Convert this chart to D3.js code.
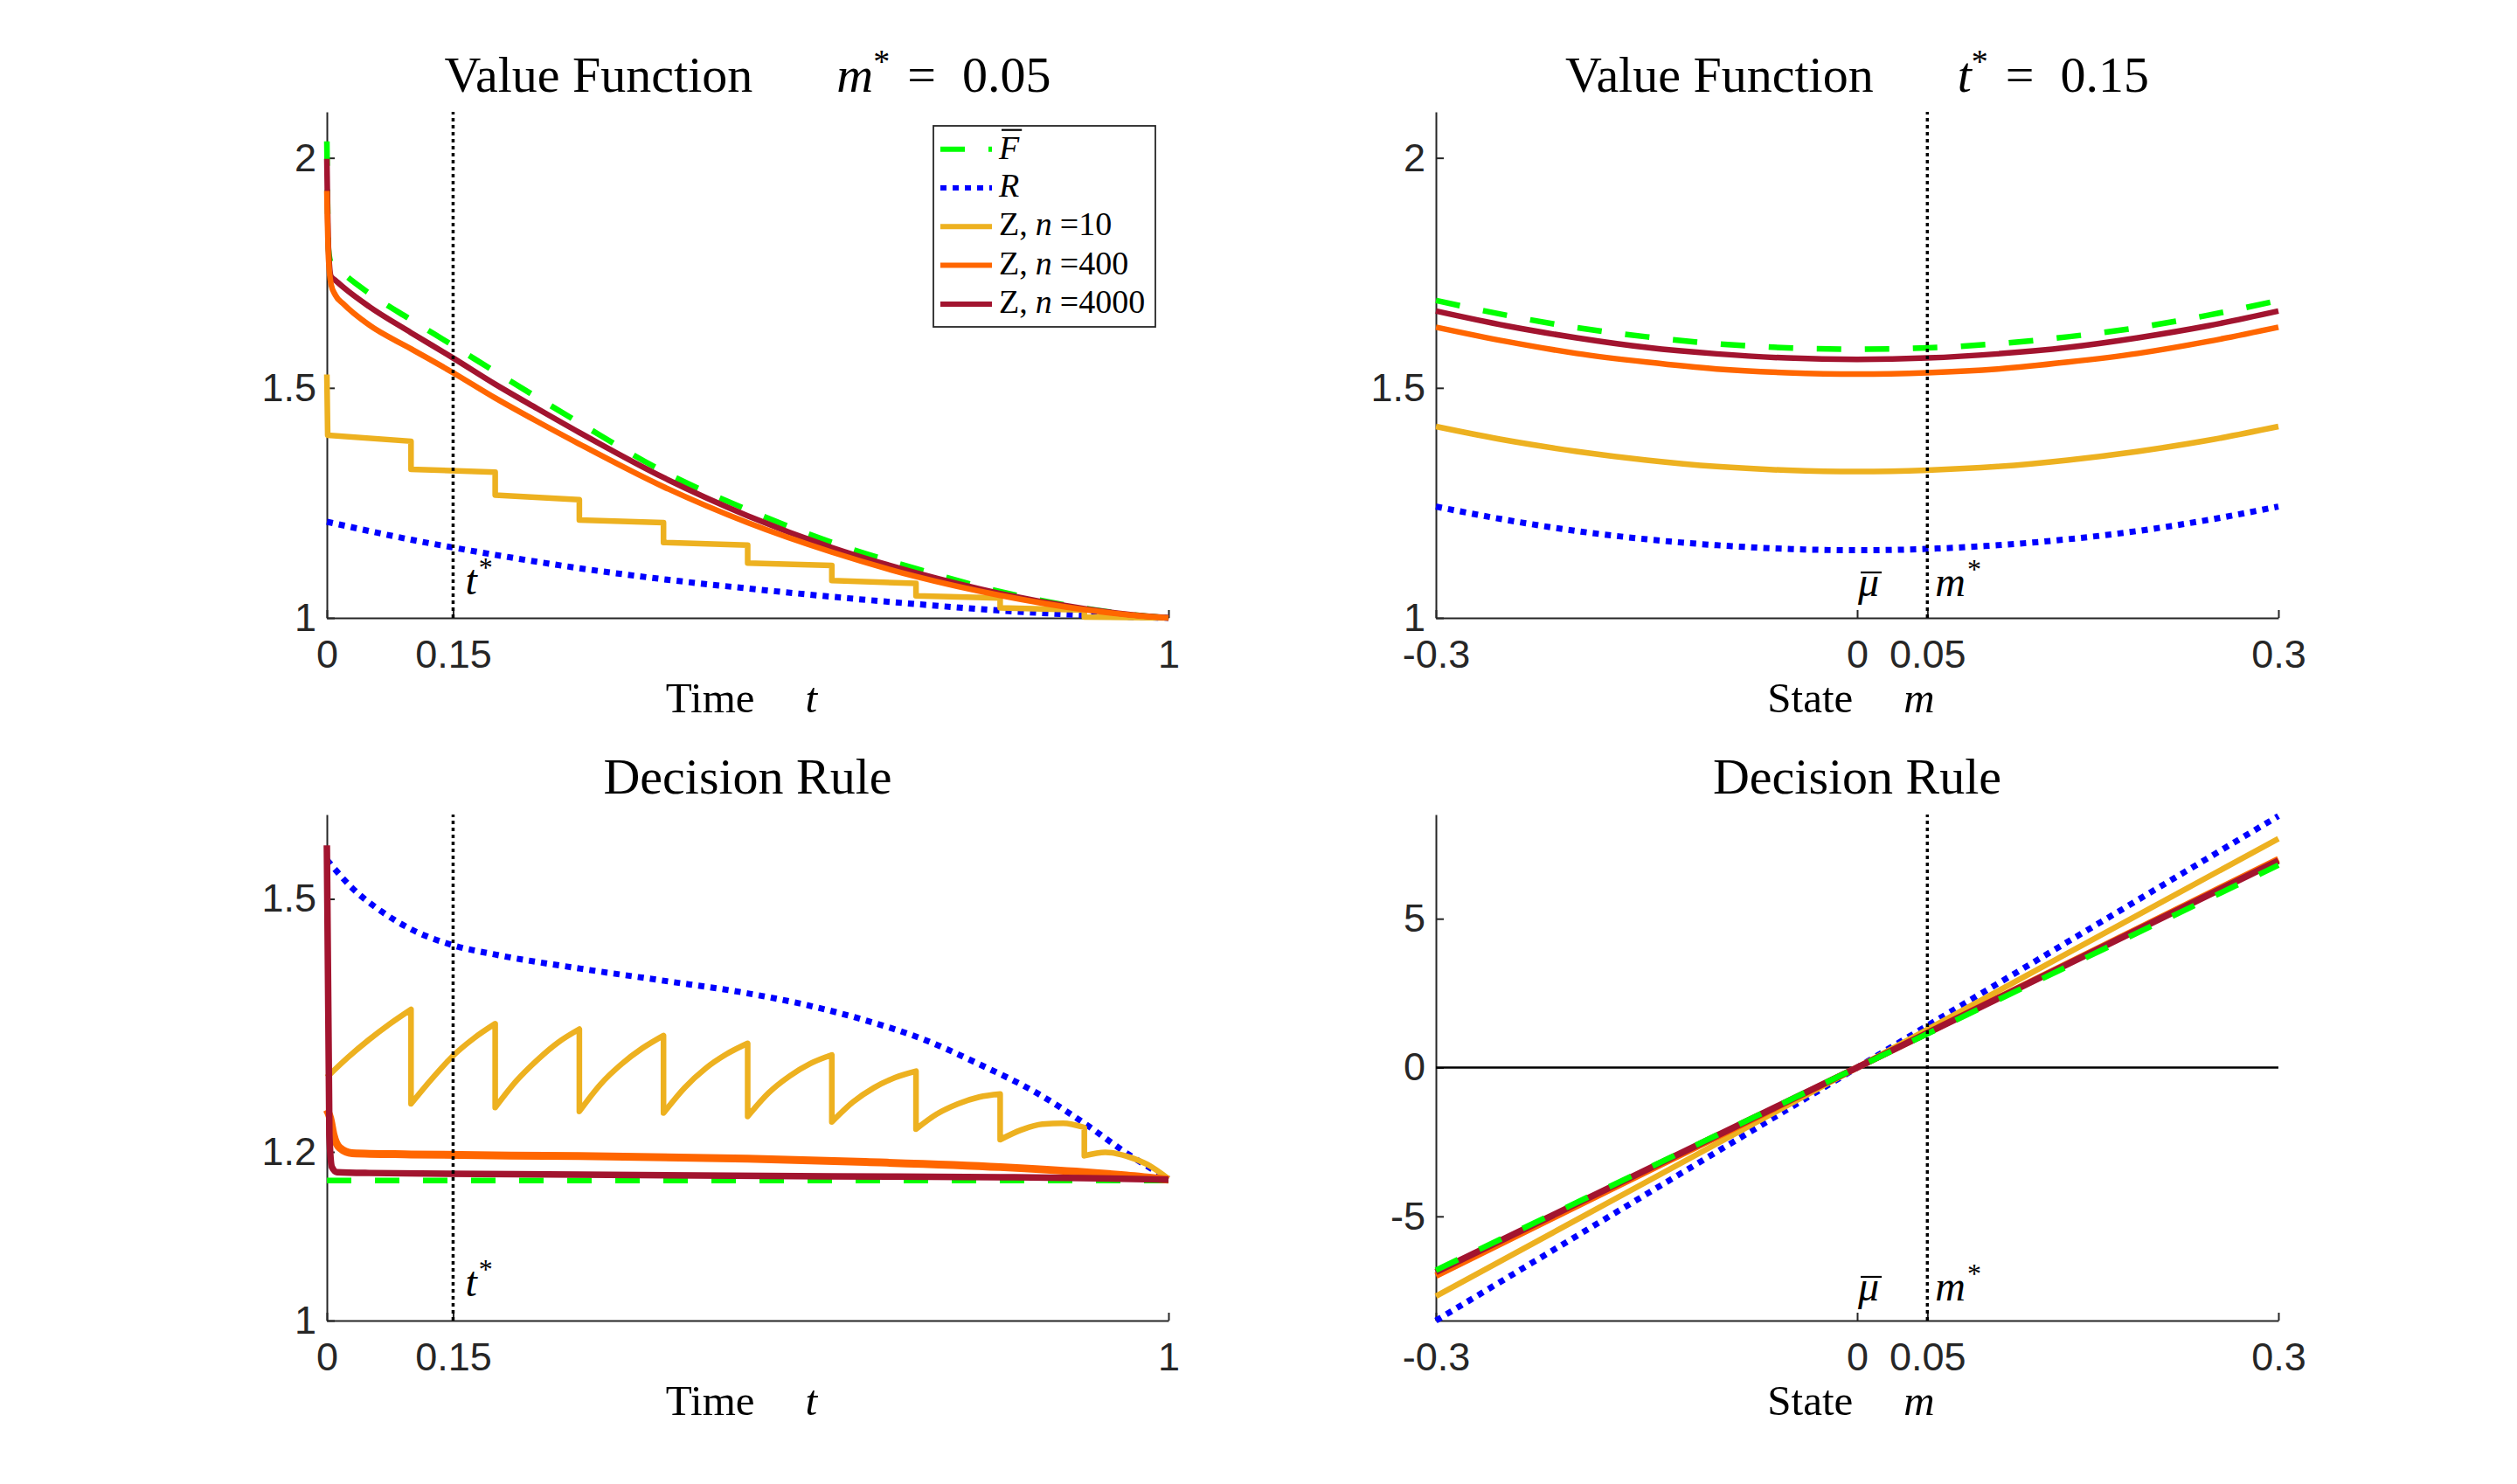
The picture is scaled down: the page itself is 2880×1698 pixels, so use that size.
<!DOCTYPE html>
<html><head><meta charset="utf-8">
<script src="https://cdn.jsdelivr.net/npm/d3@7"></script>
<style>body{margin:0;background:#fff} svg{display:block;background:#fff}</style>
</head><body><svg id="c" width="2880" height="1698"></svg>
<script>
// ---------------- DATA ----------------
// Top-left: value function vs time t (m* = 0.05)
const tVal = [0,0.002,0.005,0.01,0.02,0.05,0.1,0.15,0.2,0.25,0.3,0.4,0.5,0.6,0.7,0.8,0.9,0.95,1];
const vF_t    = [2.036,1.800,1.772,1.765,1.748,1.706,1.648,1.592,1.535,1.479,1.424,1.318,1.235,1.164,1.107,1.057,1.021,1.008,1.0];
const vZ4000_t= [1.998,1.800,1.742,1.734,1.718,1.677,1.620,1.565,1.508,1.455,1.403,1.305,1.222,1.153,1.098,1.053,1.020,1.008,1.0];
const vZ400_t = [1.928,1.780,1.725,1.702,1.682,1.637,1.585,1.533,1.478,1.427,1.378,1.285,1.207,1.143,1.090,1.049,1.018,1.007,1.0];
const tValR = [0,0.05,0.1,0.15,0.2,0.3,0.4,0.5,0.6,0.7,0.8,0.9,1];
const vR_t  = [1.209,1.189,1.170,1.153,1.137,1.108,1.084,1.064,1.046,1.030,1.016,1.006,1.0];
const tStep = [0,0.001,0.1,0.1,0.2,0.2,0.3,0.3,0.4,0.4,0.5,0.5,0.6,0.6,0.7,0.7,0.8,0.8,0.9,0.9,1];
const vZ10_t= [1.529,1.397,1.384,1.323,1.317,1.267,1.257,1.213,1.207,1.164,1.158,1.119,1.114,1.081,1.075,1.048,1.043,1.022,1.017,1.002,1.0];

// Top-right: value function vs state m (t* = 0.15)
const mGrid = [-0.3,-0.25,-0.2,-0.15,-0.1,-0.05,0,0.05,0.1,0.15,0.2,0.25,0.3];
const vF_m    = [1.690,1.658,1.631,1.611,1.596,1.587,1.584,1.587,1.596,1.611,1.631,1.658,1.690];
const vZ4000_m= [1.667,1.635,1.609,1.588,1.574,1.565,1.562,1.565,1.574,1.588,1.609,1.635,1.667];
const vZ400_m = [1.632,1.601,1.575,1.556,1.541,1.533,1.530,1.533,1.541,1.556,1.575,1.601,1.632];
const vZ10_m  = [1.416,1.386,1.362,1.343,1.329,1.321,1.318,1.321,1.329,1.343,1.362,1.386,1.416];
const vR_m    = [1.242,1.213,1.189,1.171,1.158,1.150,1.147,1.150,1.158,1.171,1.189,1.213,1.242];

// Bottom-left: decision rule vs time t
const tDrR = [0,0.03,0.065,0.1,0.15,0.2,0.3,0.4,0.5,0.575,0.64,0.71,0.775,0.845,0.91,0.945,1];
const dR_t = [1.5465,1.513,1.485,1.464,1.445,1.434,1.4175,1.403,1.388,1.373,1.356,1.333,1.304,1.269,1.227,1.202,1.168];
const tDrF = [0,1];
const dF_t = [1.166,1.166];
const tDr4000 = [0,0.003,0.006,0.012,0.05,0.3,0.6,0.8,0.9,1];
const dZ4000_t= [1.5635,1.22,1.182,1.176,1.175,1.173,1.171,1.170,1.169,1.167];
const tDr400 = [0,0.004,0.008,0.015,0.03,0.1,0.3,0.5,0.64,0.8,0.9,0.95,1];
const dZ400_t= [1.25,1.24,1.22,1.205,1.1985,1.197,1.195,1.192,1.188,1.182,1.176,1.172,1.167];
const tSaw = [0,0.025,0.05,0.075,0.1, 0.1,0.125,0.15,0.175,0.2, 0.2,0.225,0.25,0.275,0.3,
              0.3,0.325,0.35,0.375,0.4, 0.4,0.425,0.45,0.475,0.5, 0.5,0.525,0.55,0.575,0.6,
              0.6,0.625,0.65,0.675,0.7, 0.7,0.725,0.75,0.775,0.8, 0.8,0.825,0.85,0.875,0.9,
              0.9,0.925,0.95,0.975,1];
const dZ10_t = [1.2885,1.312,1.333,1.352,1.369, 1.257,1.287,1.314,1.335,1.352, 1.2525,1.284,1.309,1.330,1.3456,
                1.248,1.280,1.304,1.323,1.338, 1.246,1.276,1.299,1.316,1.3287, 1.242,1.270,1.290,1.305,1.315,
                1.2356,1.259,1.276,1.288,1.2957, 1.227,1.245,1.257,1.265,1.2686, 1.2145,1.226,1.233,1.234,1.229,
                1.1954,1.1995,1.195,1.185,1.168];

// Bottom-right: decision rule vs state m
const mLin = [-0.3,0,0.3];
const dR_m    = [-8.5,0,8.45];
const dZ10_m  = [-7.68,0,7.69];
const dZ400_m = [-6.99,0,7.0];
const dZ4000_m= [-6.87,0,6.95];
const dF_m    = [-6.81,0,6.80];

// Ticks
const xTicksT = [0,0.15,1], xTickLabT = ["0","0.15","1"];
const xTicksM = [-0.3,0,0.05,0.3], xTickLabM = ["-0.3","0","0.05","0.3"];
const yTicksV = [1,1.5,2], yTickLabV = ["1","1.5","2"];
const yTicksDt = [1,1.2,1.5], yTickLabDt = ["1","1.2","1.5"];
const yTicksDm = [-5,0,5], yTickLabDm = ["-5","0","5"];
const tStar = 0.15, mStar = 0.05, muBar = 0;

// ---------------- STYLE ----------------
const FONT_SANS = "'Liberation Sans', Arial, Helvetica, sans-serif";
const FONT_SERIF = "'Liberation Serif', 'Times New Roman', serif";
const AX = '#262626';
const S = {
  F:{c:'#00ff00',w:6.5,dash:'28,27'},
  R:{c:'#0000ff',w:7,dash:'7,7'},
  Z10:{c:'#edb120',w:6.5},
  Z400:{c:'#ff6600',w:6.5},
  Z4000:{c:'#a2142f',w:6.5}
};

const svg = d3.select('#c');

function pathFrom(ts, vs, x, y, curve){
  const segs=[]; let cur=[];
  ts.forEach((t,i)=>{ if(i>0 && t===ts[i-1]){segs.push(cur);cur=[];} cur.push([t,vs[i]]); });
  segs.push(cur);
  const gen=d3.line().x(d=>x(d[0])).y(d=>y(d[1])).curve(curve);
  return segs.map((s,i)=>{const p=gen(s); return i? 'L'+p.slice(1):p;}).join('');
}
function drawSeries(g, ts, vs, st, x, y, curve, w){
  g.append('path').attr('d', pathFrom(ts,vs,x,y,curve||d3.curveMonotoneX))
   .attr('fill','none').attr('stroke',S[st].c).attr('stroke-width',w||S[st].w)
   .attr('stroke-dasharray',S[st].dash||null).attr('stroke-linejoin','round');
}
function drawAxes(g, x, y, xt, xl, yt, yl){
  const ax = g.append('g').attr('transform',`translate(0,${y.range()[0]})`)
    .call(d3.axisBottom(x).tickValues(xt).tickFormat((d,i)=>xl[i]).tickSizeInner(-9).tickSizeOuter(0).tickPadding(25));
  const ay = g.append('g').attr('transform',`translate(${x.range()[0]},0)`)
    .call(d3.axisLeft(y).tickValues(yt).tickFormat((d,i)=>yl[i]).tickSizeInner(-9).tickSizeOuter(0).tickPadding(12));
  [ax,ay].forEach(a=>{
    a.attr('font-family',FONT_SANS).attr('font-size',45);
    a.select('.domain').attr('stroke',AX).attr('stroke-width',2);
    a.selectAll('.tick line').attr('stroke',AX).attr('stroke-width',2);
    a.selectAll('.tick text').attr('fill',AX);
  });
}
function vDotted(g, x, y, xv){
  g.append('line').attr('x1',x(xv)).attr('x2',x(xv)).attr('y1',y.range()[0]).attr('y2',y.range()[1])
   .attr('stroke','#000').attr('stroke-width',3.5).attr('stroke-dasharray','4,4');
}
function title(cx, yb, parts){
  const t = svg.append('text').attr('x',cx).attr('y',yb).attr('text-anchor','middle')
    .attr('font-family',FONT_SERIF).attr('font-size',58).attr('fill','#000');
  parts.forEach(p=>{
    const s=t.append('tspan').text(p.text);
    if(p.it) s.attr('font-style','italic');
    if(p.dx) s.attr('dx',p.dx);
    if(p.dy) s.attr('dy',p.dy);
    if(p.fs) s.attr('font-size',p.fs);
  });
}
function xlabel(cx, yb, word, sym){
  const t = svg.append('text').attr('x',cx).attr('y',yb).attr('text-anchor','middle')
    .attr('font-family',FONT_SERIF).attr('font-size',49).attr('fill','#000');
  t.append('tspan').text(word);
  t.append('tspan').attr('dx',58).attr('font-style','italic').text(sym);
}
function starLabel(g, xpos, yb, sym){
  const t = g.append('text').attr('x',xpos).attr('y',yb).attr('font-family',FONT_SERIF)
    .attr('font-size',48).attr('fill','#000');
  t.append('tspan').attr('font-style','italic').text(sym);
  t.append('tspan').attr('font-size',32).attr('dy',-20).attr('dx',2).text('*');
}
function barLabel(g, xpos, yb, sym, fs, gap){
  const t = g.append('text').attr('x',xpos).attr('y',yb).attr('font-family',FONT_SERIF)
    .attr('font-size',fs).attr('font-style','italic').attr('fill','#000').text(sym);
  const w = t.node().getComputedTextLength();
  g.append('line').attr('x1',xpos+3).attr('x2',xpos+w+3).attr('y1',yb-gap).attr('y2',yb-gap)
   .attr('stroke','#000').attr('stroke-width',2.2);
}

// ---------------- PANELS ----------------
const P = {
  TL:{x0:374,x1:1337,yT:128,yB:707,xd:[0,1],yd:[1,2.1]},
  TR:{x0:1643,x1:2607,yT:128,yB:707,xd:[-0.3,0.3],yd:[1,2.1]},
  BL:{x0:374,x1:1337,yT:932,yB:1511,xd:[0,1],yd:[1,1.6]},
  BR:{x0:1643,x1:2607,yT:932,yB:1511,xd:[-0.3,0.3],yd:[-8.5,8.5]}
};
function scales(p){ return [d3.scaleLinear().domain(p.xd).range([p.x0,p.x1]), d3.scaleLinear().domain(p.yd).range([p.yB,p.yT])]; }
const titleParts = (sym,val)=>[{text:'Value Function'},{text:sym,it:1,dx:96},{text:'*',fs:38,dy:-22},{text:'=',dy:22,dx:20},{text:val,dx:30}];

// TL
{
  const [x,y]=scales(P.TL); const g=svg.append('g');
  drawAxes(g,x,y,xTicksT,xTickLabT,yTicksV,yTickLabV);
  drawSeries(g,tVal,vF_t,'F',x,y);
  drawSeries(g,tValR,vR_t,'R',x,y);
  drawSeries(g,tStep,vZ10_t,'Z10',x,y,d3.curveLinear);
  drawSeries(g,tVal,vZ4000_t,'Z4000',x,y);
  drawSeries(g,tVal,vZ400_t,'Z400',x,y);
  vDotted(g,x,y,tStar);
  starLabel(g,x(tStar)+14,y.range()[0]-27,'t');
  title((P.TL.x0+P.TL.x1)/2,105,titleParts('m','0.05'));
  xlabel((P.TL.x0+P.TL.x1)/2-7,815,'Time','t');
}
// TR
{
  const [x,y]=scales(P.TR); const g=svg.append('g');
  drawAxes(g,x,y,xTicksM,xTickLabM,yTicksV,yTickLabV);
  drawSeries(g,mGrid,vF_m,'F',x,y);
  drawSeries(g,mGrid,vR_m,'R',x,y);
  drawSeries(g,mGrid,vZ10_m,'Z10',x,y);
  drawSeries(g,mGrid,vZ4000_m,'Z4000',x,y);
  drawSeries(g,mGrid,vZ400_m,'Z400',x,y);
  vDotted(g,x,y,mStar);
  barLabel(g,x(muBar)+1,y.range()[0]-25,'μ',48,27);
  starLabel(g,x(mStar)+9,y.range()[0]-25,'m');
  title((P.TR.x0+P.TR.x1)/2,105,titleParts('t','0.15'));
  xlabel((P.TR.x0+P.TR.x1)/2-7,815,'State','m');
}
// BL
{
  const [x,y]=scales(P.BL); const g=svg.append('g');
  drawAxes(g,x,y,xTicksT,xTickLabT,yTicksDt,yTickLabDt);
  drawSeries(g,tDrF,dF_t,'F',x,y);
  drawSeries(g,tDrR,dR_t,'R',x,y);
  drawSeries(g,tSaw,dZ10_t,'Z10',x,y);
  drawSeries(g,tDr400,dZ400_t,'Z400',x,y,null,9);
  drawSeries(g,tDr4000,dZ4000_t,'Z4000',x,y,null,7.5);
  vDotted(g,x,y,tStar);
  starLabel(g,x(tStar)+14,y.range()[0]-28,'t');
  title((P.BL.x0+P.BL.x1)/2,908,[{text:'Decision Rule'}]);
  xlabel((P.BL.x0+P.BL.x1)/2-7,1619,'Time','t');
}
// BR
{
  const [x,y]=scales(P.BR); const g=svg.append('g');
  drawAxes(g,x,y,xTicksM,xTickLabM,yTicksDm,yTickLabDm);
  g.append('line').attr('x1',x.range()[0]).attr('x2',x.range()[1]).attr('y1',y(0)).attr('y2',y(0))
   .attr('stroke','#000').attr('stroke-width',2.5);
  drawSeries(g,mLin,dR_m,'R',x,y,d3.curveLinear);
  drawSeries(g,mLin,dZ10_m,'Z10',x,y,d3.curveLinear);
  drawSeries(g,mLin,dZ400_m,'Z400',x,y,d3.curveLinear,7.5);
  drawSeries(g,mLin,dZ4000_m,'Z4000',x,y,d3.curveLinear,7.5);
  drawSeries(g,mLin,dF_m,'F',x,y,d3.curveLinear);
  vDotted(g,x,y,mStar);
  barLabel(g,x(muBar)+1,y.range()[0]-23,'μ',48,27);
  starLabel(g,x(mStar)+9,y.range()[0]-23,'m');
  title((P.BR.x0+P.BR.x1)/2,908,[{text:'Decision Rule'}]);
  xlabel((P.BR.x0+P.BR.x1)/2-7,1619,'State','m');
}

// ---------------- LEGEND (top-left panel) ----------------
{
  const L = {x:1068,y:144,w:254,h:230,row0:170.7,rowH:44.3,lx0:1076,lx1:1135,tx:1143};
  const lg = svg.append('g');
  lg.append('rect').attr('x',L.x).attr('y',L.y).attr('width',L.w).attr('height',L.h)
    .attr('fill','#fff').attr('stroke',AX).attr('stroke-width',1.8);
  const items = [
    {k:'F', parts:null},
    {k:'R', parts:[{text:'R',it:1}]},
    {k:'Z10', parts:[{text:'Z,'},{text:'n',it:1,dx:9},{text:'=',dx:9},{text:'10'}]},
    {k:'Z400', parts:[{text:'Z,'},{text:'n',it:1,dx:9},{text:'=',dx:9},{text:'400'}]},
    {k:'Z4000', parts:[{text:'Z,'},{text:'n',it:1,dx:9},{text:'=',dx:9},{text:'4000'}]}
  ];
  items.forEach((it,i)=>{
    const cy = L.row0 + i*L.rowH;
    lg.append('line').attr('x1',L.lx0).attr('x2',L.lx1).attr('y1',cy).attr('y2',cy)
      .attr('stroke',S[it.k].c).attr('stroke-width',6).attr('stroke-dasharray',S[it.k].dash||null);
    if(!it.parts){ barLabel(lg,L.tx,cy+11,'F',38,33); return; }
    const t = lg.append('text').attr('x',L.tx).attr('y',cy+10).attr('font-family',FONT_SERIF)
      .attr('font-size',38).attr('fill','#000');
    it.parts.forEach(p=>{ const s=t.append('tspan').text(p.text); if(p.it) s.attr('font-style','italic'); if(p.dx) s.attr('dx',p.dx); });
  });
}
</script>
</body></html>
